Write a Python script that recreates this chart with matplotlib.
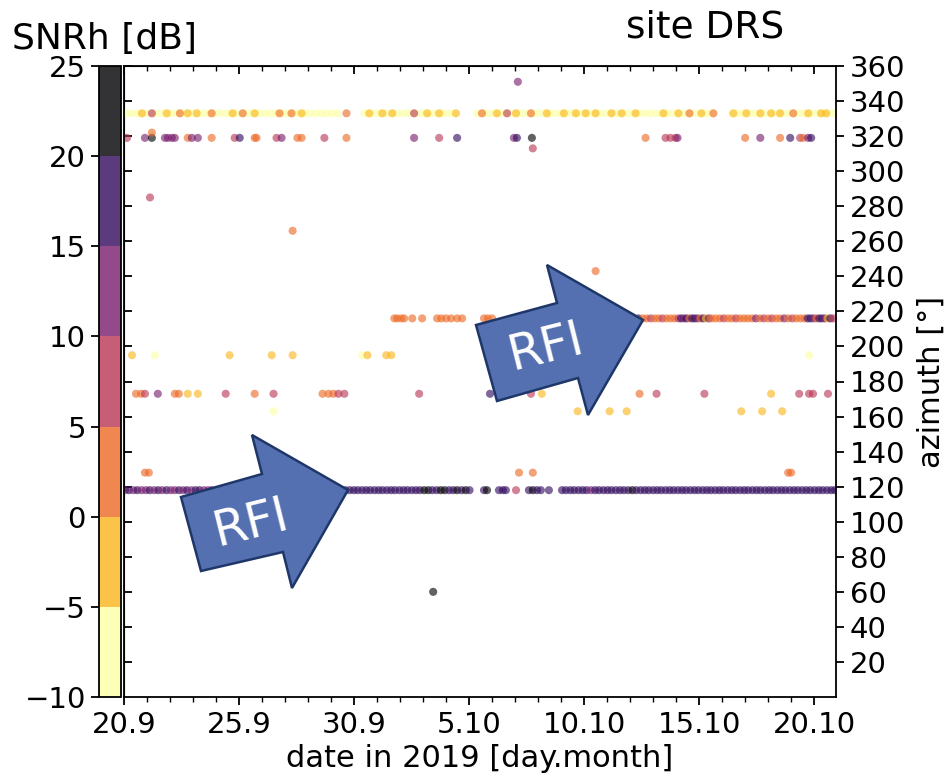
import numpy as np
import matplotlib
matplotlib.use('Agg')
import matplotlib.pyplot as plt
from matplotlib.colors import Normalize
from matplotlib.patches import Polygon
from matplotlib.ticker import MultipleLocator
import matplotlib.cm as cm

# ---------------- data (x = days since 20.9.2019, az in degrees, SNRh in dB) -------------
xtick_days = [0, 5, 10, 15, 20, 25, 30]
xtick_labels = ['20.9', '25.9', '30.9', '5.10', '10.10', '15.10', '20.10']
az_ticks = list(range(20, 361, 20))
snr_ticks = [-10, -5, 0, 5, 10, 15, 20, 25]

# band at ~333 deg, weak (pale yellow) detections
A_az = 333
A_pale_days = [0.1, 0.33, 0.58, 0.8, 1.05, 1.3, 1.55, 1.78, 2.02, 2.27,
               2.52, 2.75, 3.0, 3.24, 3.48, 3.72, 3.97, 4.2, 4.45, 4.7,
               4.93, 5.18, 5.42, 5.66, 5.9, 6.15, 6.38, 6.62, 6.87, 7.1,
               7.35, 7.6, 7.84, 8.08, 8.32, 8.57, 8.8, 9.05, 9.3,
               10.45, 10.7, 10.94, 11.18, 11.42, 11.67, 11.9, 12.15, 12.4, 12.63,
               12.88, 13.12, 13.36, 13.6, 13.85, 14.08, 14.33,
               15.35, 15.6, 15.83, 16.08, 16.32, 16.57, 16.8, 17.05, 17.3, 17.53,
               17.78, 18.02, 18.27, 18.5, 18.75, 19.0, 19.23, 19.48, 19.72, 19.97,
               20.2, 20.45, 20.7, 20.93, 21.18, 21.42, 21.67, 21.9, 22.15, 22.4,
               22.63, 22.88, 23.12, 23.37, 23.6, 23.85, 24.1, 24.33, 24.58, 24.82,
               25.07, 25.3, 25.55,
               26.45, 26.7, 26.93, 27.18, 27.42, 27.67, 27.9, 28.15, 28.4, 28.63,
               28.88, 29.12, 29.37, 29.6, 29.85, 30.1, 30.33, 30.58, 30.82]
A_pale_snr = [-7, -6, -8, -7, -6, -7, -8, -7, -6, -7,
              -7, -8, -6, -7, -7, -6, -8, -7, -7, -6,
              -7, -8, -7, -6, -7, -7, -8, -6, -7, -7,
              -6, -8, -7, -7, -6, -7, -8, -7, -6,
              -7, -7, -8, -6, -7, -7, -6, -8, -7, -7,
              -6, -7, -8, -7, -6, -7, -7,
              -8, -6, -7, -7, -6, -8, -7, -7, -6, -7,
              -8, -7, -6, -7, -7, -8, -6, -7, -7, -6,
              -7, -6, -8, -7, -6, -7, -8, -7, -6, -7,
              -7, -8, -6, -7, -7, -6, -8, -7, -7, -6,
              -7, -8, -7,
              -6, -7, -7, -8, -6, -7, -7, -6, -8, -7,
              -7, -6, -7, -8, -7, -6, -7, -7, -8]
A_col_days = [0.78, 1.21, 1.86, 2.43, 2.77, 3.16, 3.81, 4.72, 5.16, 5.68, 6.76, 7.28, 7.72,
              9.67, 10.66, 11.23, 11.66, 12.61, 13.18, 13.70, 14.43, 15.56, 16.21, 16.65,
              17.04, 17.69, 18.38, 19.12, 19.64, 20.07, 20.50, 21.19, 21.63, 22.24, 23.45,
              24.10, 24.58, 25.10, 25.62, 26.49, 27.05, 27.66, 28.13, 28.52, 29.09, 29.74,
              30.30, 30.52]
A_col_snr = [-1, 7, -2, 0, -1, -3, 2, -1, 2, -2, 3, 1, -2,
             2, -1, -3, -4, 6, -3, -1, -2, 0, -1, 7,
             -1, 2, -4, -3, -4, -2, -4, -4, -5, -4, -1,
             -4, 2, -1, 2, -4, -2, -1, -4, -3, 1, -2,
             -3, -1]

# band at ~319 deg
B_az = 319
B_days = [0.13, 0.91, 1.21, 1.78, 1.91, 2.08, 2.21, 2.77, 2.95, 3.21, 3.81, 4.81, 5.03,
          5.68, 5.76, 6.63, 6.85, 7.54, 7.72, 8.71, 9.67, 12.61, 13.70, 14.48, 16.95,
          17.08, 17.73, 22.67, 23.54, 23.75, 23.97, 24.06, 27.00, 27.66, 28.52, 28.96,
          29.39, 29.52, 29.74, 29.87]
B_snr = [8, 12, 21, 12, 13, 11, 14, 3, 11, 12, 4, 8, 16,
         2, 3, 6, 12, 2, 4, 5, 3, 12, 7, 17, 10,
         16, 22, 4, 9, 6, 8, 11, 2, 12, 3, 17,
         9, 4, 13, 18]

# band at ~216 deg
C_az = 216
C_days = [11.75, 11.88, 12.05, 12.18, 12.53, 12.96, 13.61, 13.79, 14.00, 14.22, 14.48, 14.70,
          15.65, 15.82, 16.00,
          16.86, 17.08, 17.3, 17.52, 17.74, 17.96, 18.18, 18.4, 18.62, 18.84,
          19.06, 19.28, 19.5, 19.72, 19.94, 20.16,
          20.38, 20.6, 20.82, 21.04, 21.26, 21.48, 21.7, 21.92, 22.14, 22.36,
          22.55, 22.72, 22.9, 23.07, 23.24, 23.41, 23.59, 23.76, 23.93, 24.1,
          24.22, 24.34, 24.46, 24.58, 24.7, 24.82, 24.94, 25.06, 25.18, 25.3,
          25.42, 25.54, 25.72, 25.9, 26.07, 26.25, 26.42, 26.6, 26.77, 26.95,
          27.12, 27.3, 27.47, 27.65, 27.82, 28.0, 28.17, 28.35, 28.52, 28.7,
          28.87, 29.05, 29.22, 29.4, 29.57, 29.72, 29.85, 29.98, 30.1, 30.22,
          30.34, 30.46, 30.58, 30.7, 30.82]
C_snr = [2, 4, 3, 1, 2, 4, 3, 1, 2, 4, 3, 2,
         4, 3, 2,
         17, 18, 16, 17, 18, 17, 16, 18, 17, 16,
         18, 17, 16, 17, 18, 16,
         16, 18, 17, 19, 16, 13, 17, 18, 16, 19,
         3, 2, 5, 1, 4, 6, 3, 2, 4, 5,
         16, 12, 18, 3, 17, 19, 14, 2, 16, -2,
         12, 4, 3, 1, 5, 2, 4, 6, 3, 1,
         4, 2, 12, 3, 5, 2, 6, 3, 4, 14,
         2, 5, 3, 1, 4, 16, 18, 13, 3, 17,
         19, 12, -2, 16, 9]

# band at ~195 deg
E_az = 195
E_days = [0.35, 1.34, 4.59, 6.42, 7.33, 10.36, 10.58, 11.40, 11.62, 29.78]
E_snr = [-3, -6, -3, -5, -5, -6, -5, -4, -3, -7]

# band at ~173 deg
D_az = 173
D_days = [0.52, 0.74, 0.91, 1.47, 2.21, 2.38, 2.77, 3.21, 4.42, 5.68, 6.50, 8.63, 8.89,
          9.10, 9.32, 9.58, 12.83, 15.91, 17.69, 18.16, 20.20, 22.41, 23.15, 25.23,
          28.13, 29.35, 29.78, 29.95, 30.60]
D_snr = [3, 2, 8, 12, 3, 3, -1, -1, 8, 0, 8, 4, 3,
         4, 6, 9, 8, 16, 8, -1, 0, 0, 8, 8,
         -1, 8, 8, 7, 8]

# band at ~163 deg
F_az = 163
F_days = [6.50, 19.72, 21.11, 21.85, 26.83, 27.74, 28.61]
F_snr = [-7, -4, -5, -5, -4, -2, -4]

# band at ~128 deg
G_az = 128
G_days = [0.91, 1.08, 6.63, 7.33, 7.72, 17.17, 17.77, 28.87, 29.00]
G_snr = [2, 1, 16, 16, 12, 3, 2, 2, 1]

# band at ~118 deg (strong RFI)
H_az = 118
H_days = [0.05, 0.22, 0.41, 0.58, 0.77, 0.95, 1.12, 1.31, 1.49, 1.66,
          1.85, 2.03, 2.2, 2.39, 2.57, 2.74, 2.93, 3.11, 3.28, 3.47,
          3.65, 3.82, 4.01, 4.19, 4.36, 4.55, 4.73, 4.9, 5.09, 5.27,
          5.44, 5.63, 5.81, 5.98, 6.17, 6.35, 6.52, 6.71, 6.93,
          7.65, 7.83, 8.0, 8.19, 8.37, 8.54, 8.73, 8.91, 9.08, 9.27,
          9.45, 9.62, 9.81, 9.99, 10.16, 10.35, 10.53, 10.7, 10.89, 11.07,
          11.24, 11.43, 11.61, 11.78, 11.97, 12.15, 12.32, 12.51, 12.69, 12.86,
          13.05, 13.23, 13.4, 13.59, 13.77, 13.94, 14.13, 14.31, 14.48, 14.67,
          14.85, 15.02,
          15.65, 15.78, 16.30, 16.47, 16.60, 17.04, 17.60, 17.77, 17.95, 18.12, 18.47,
          19.04, 19.21, 19.4, 19.57, 19.76, 19.94, 20.11, 20.3, 20.48, 20.65,
          20.84, 21.02, 21.19, 21.38, 21.56, 21.73, 21.92, 22.1, 22.27, 22.46,
          22.64, 22.81, 23.0, 23.18, 23.35, 23.54, 23.72, 23.89, 24.08, 24.26,
          24.43, 24.62, 24.8, 24.97, 25.16, 25.34, 25.51, 25.7, 25.88, 26.05,
          26.24, 26.42, 26.59, 26.78, 26.96, 27.13, 27.32, 27.5, 27.67, 27.86,
          28.04, 28.21, 28.4, 28.58, 28.75, 28.94, 29.12, 29.29, 29.48, 29.66,
          29.83, 30.02, 30.2, 30.37, 30.56, 30.74, 30.9]
H_snr = [13, 15, 12, 16, 14, 13, 17, 12, 15, 14,
         16, 13, 12, 15, 14, 17, 13, 16, 15, 12,
         14, 16, 13, 15, 17, 14, 12, 16, 15, 13,
         16, 14, 17, 15, 13, 16, 14, 15, 17,
         16, 17, 15, 18, 16, 17, 16, 18, 17, 15,
         16, 18, 17, 16, 17, 15, 16, 18, 17, 16,
         17, 18, 16, 17, 18, 16, 17, 18, 19, 17,
         20, 21, 18, 19, 22, 20, 18, 19, 21, 17,
         20, 19,
         19, 22, 17, 16, 18, 8, 17, 21, 16, 18, 19,
         17, 16, 18, 15, 19, 17, 16, 14, 18, 17,
         16, 19, 17, 15, 18, 16, 17, 20, 16, 18,
         17, 15, 18, 16, 19, 17, 16, 18, 15, 17,
         18, 16, 17, 19, 16, 18, 17, 15, 18, 16,
         17, 19, 16, 18, 17, 16, 18, 17, 19, 16,
         18, 17, 16, 18, 19, 17, 16, 18, 17, 19,
         16, 18, 17, 16, 18, 17, 19]

# isolated detections
O_days = [17.12, 17.77, 1.13, 7.33, 20.50, 13.44, 1.21]
O_az = [351, 313, 285, 266, 243, 60, 322]
O_snr = [10, 9, 7, 4, 2, 22, 2]

# ---------------- figure -------------------------------------------------------------------
W, H = 951, 777
fig = plt.figure(figsize=(W / 100, H / 100), dpi=100)


def fx(px):
    return px / W


def fy(py):
    return 1 - py / H


ax = fig.add_axes([fx(124), fy(697), (836 - 124) / W, (697 - 66) / H])
cax = fig.add_axes([fx(99), fy(697), (121 - 99) / W, (697 - 66) / H])

cmap = plt.get_cmap('inferno_r', 7)
norm = Normalize(vmin=-10, vmax=25)

scatter_kw = dict(cmap=cmap, norm=norm, s=34, alpha=0.62, linewidths=0)


def band(days, snr, az):
    n = min(len(days), len(snr))
    ax.scatter(days[:n], [az] * n, c=snr[:n], **scatter_kw)


band(A_pale_days, A_pale_snr, A_az)
band(A_col_days, A_col_snr, A_az)
band(B_days, B_snr, B_az)
band(C_days, C_snr, C_az)
band(E_days, E_snr, E_az)
band(D_days, D_snr, D_az)
band(F_days, F_snr, F_az)
band(G_days, G_snr, G_az)
band(H_days, H_snr, H_az)
ax.scatter(O_days, O_az, c=O_snr, **scatter_kw)

ax.set_xlim(0, 30.95)
ax.set_ylim(0, 360)

ax.set_xticks(xtick_days, labels=xtick_labels)
ax.xaxis.set_minor_locator(MultipleLocator(1))
ax.yaxis.tick_right()
ax.yaxis.set_label_position('right')
ax.set_yticks(az_ticks)
ax.tick_params(axis='both', which='major', direction='out', labelsize=21,
               length=6, width=1.3, pad=4)
ax.tick_params(axis='x', which='minor', direction='out', length=3.5, width=1.0)
for sp in ax.spines.values():
    sp.set_linewidth(1.3)

secx = ax.secondary_xaxis('top')
secx.set_xticks(xtick_days, labels=[''] * len(xtick_days))
secx.xaxis.set_minor_locator(MultipleLocator(1))
secx.tick_params(which='major', direction='in', length=6, width=1.3)
secx.tick_params(which='minor', direction='in', length=3.5, width=1.0)

secy = ax.secondary_yaxis('left')
secy.set_yticks(az_ticks, labels=[''] * len(az_ticks))
secy.tick_params(direction='in', length=6, width=1.3)

ax.set_xlabel('date in 2019 [day.month]', fontsize=22, labelpad=4)
ax.set_ylabel('azimuth [°]', fontsize=22, labelpad=8)

sm = cm.ScalarMappable(norm=norm, cmap=cmap)
cb = fig.colorbar(sm, cax=cax, ticklocation='left', alpha=0.8)
cb.set_ticks(snr_ticks)
cax.tick_params(labelsize=21, length=6, width=1.3, direction='out')
cb.outline.set_linewidth(1.3)

fig.text(fx(12), fy(49), 'SNRh [dB]', fontsize=26, ha='left', va='baseline')
fig.text(fx(705), fy(28), 'site DRS', fontsize=27, ha='center', va='center')

# "RFI" block arrows
arrow_fill = '#5470b0'
arrow_edge = '#1f3768'
arrow1_px = [(348, 490), (252, 435), (262, 474), (181, 497), (201, 571), (283, 552), (292, 588)]
arrow2_px = [(643, 320), (547, 265), (557, 303), (476, 325), (497, 401), (578, 378), (588, 415)]
for pts, (tx, ty) in [(arrow1_px, (251, 523)), (arrow2_px, (546, 347))]:
    poly = Polygon([(fx(x), fy(y)) for x, y in pts], closed=True,
                   transform=fig.transFigure, facecolor=arrow_fill,
                   edgecolor=arrow_edge, linewidth=1.8, zorder=10)
    fig.add_artist(poly)
    fig.text(fx(tx), fy(ty), 'RFI', fontsize=35, color='white', rotation=14,
             ha='center', va='center', rotation_mode='anchor', zorder=11)

fig.savefig('out.png', dpi=100)
